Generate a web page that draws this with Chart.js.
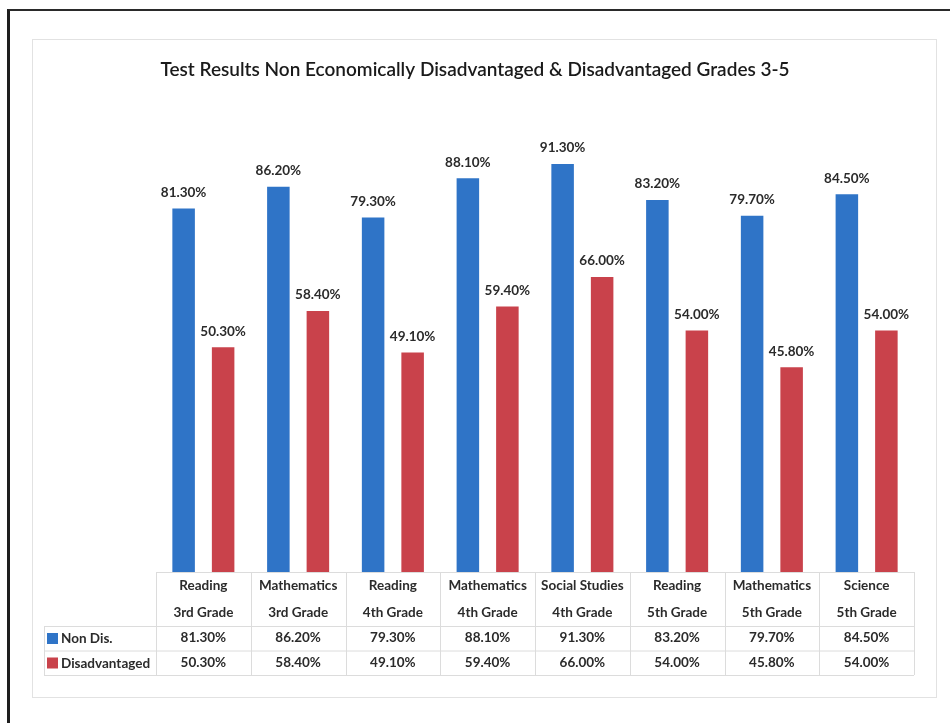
<!DOCTYPE html>
<html>
<head>
<meta charset="utf-8">
<script src="https://cdn.jsdelivr.net/npm/chart.js@4.4.1/dist/chart.umd.min.js"></script>
<style>
  html, body { margin: 0; padding: 0; background: #fff; }
  #wrap { position: relative; width: 950px; height: 723px; }
  #frame { position: absolute; left: 7px; top: 9px; width: 960px; height: 730px;
           border-left: 3px solid #1e1e1e; border-top: 2px solid #2a2a2a; box-sizing: border-box; }
  #panel { position: absolute; left: 32px; top: 39px; width: 905px; height: 659px;
           border: 1px solid #e2e2e2; box-sizing: border-box; }
  canvas { position: absolute; left: 0; top: 0; }
</style>
</head>
<body>
<div id="wrap">
  <div id="frame"></div>
  <div id="panel"></div>
  <canvas id="c" width="950" height="723"></canvas>
</div>
<script>
// Subjects and grade levels, one pair per column group
const subjects = ['Reading', 'Mathematics', 'Reading', 'Mathematics', 'Social Studies', 'Reading', 'Mathematics', 'Science'];
const grades = ['3rd Grade', '3rd Grade', '4th Grade', '4th Grade', '4th Grade', '5th Grade', '5th Grade', '5th Grade'];

// Percent passing for each group of students
const nonDisadvantaged = [81.3, 86.2, 79.3, 88.1, 91.3, 83.2, 79.7, 84.5];
const disadvantaged = [50.3, 58.4, 49.1, 59.4, 66.0, 54.0, 45.8, 54.0];

const seriesNames = ['Non Dis.', 'Disadvantaged'];
const seriesColors = ['#2f74c7', '#c9424b'];
const chartTitle = 'Test Results Non Economically Disadvantaged & Disadvantaged Grades 3-5';

const labelFont = 'bold 13.5px Lato, "Open Sans", sans-serif';
const fmt = v => v.toFixed(2) + '%';

// Title centred over the whole panel
const panelTitle = {
  id: 'panelTitle',
  afterDraw(chart) {
    const ctx = chart.ctx;
    ctx.save();
    ctx.font = '600 19px Lato, "Open Sans", sans-serif';
    ctx.fillStyle = '#1a1a1a';
    ctx.textAlign = 'center';
    ctx.textBaseline = 'middle';
    ctx.fillText(chartTitle, 475, 70);
    ctx.restore();
  }
};

// Percent labels above every bar
const barValueLabels = {
  id: 'barValueLabels',
  afterDatasetsDraw(chart) {
    const ctx = chart.ctx;
    ctx.save();
    ctx.font = labelFont;
    ctx.fillStyle = '#2b2b2b';
    ctx.textAlign = 'center';
    ctx.textBaseline = 'middle';
    chart.data.datasets.forEach((ds, di) => {
      chart.getDatasetMeta(di).data.forEach((bar, i) => {
        ctx.fillText(fmt(ds.data[i]), bar.x, bar.y - 16);
      });
    });
    ctx.restore();
  }
};

// Data table under the plot: category headings, legend keys and values
const dataTable = {
  id: 'dataTable',
  afterDraw(chart) {
    const ctx = chart.ctx;
    const xs = chart.scales.x;
    const area = chart.chartArea;
    const n = chart.data.labels.length;
    const step = (xs.right - xs.left) / n;
    const top = area.bottom;
    const headBottom = top + 54;
    const rowH = 24.5;
    const legendLeft = 44;
    const bottom = headBottom + rowH * 2;

    ctx.save();
    ctx.strokeStyle = '#dcdcdc';
    ctx.lineWidth = 1;
    ctx.beginPath();
    ctx.moveTo(xs.left, top + 0.5); ctx.lineTo(xs.right, top + 0.5);
    ctx.moveTo(legendLeft, headBottom + 0.5); ctx.lineTo(xs.right, headBottom + 0.5);
    ctx.moveTo(legendLeft, headBottom + rowH + 0.5); ctx.lineTo(xs.right, headBottom + rowH + 0.5);
    ctx.moveTo(legendLeft, bottom + 0.5); ctx.lineTo(xs.right, bottom + 0.5);
    for (let i = 0; i <= n; i++) {
      const x = Math.round(xs.left + i * step) + 0.5;
      ctx.moveTo(x, top); ctx.lineTo(x, bottom);
    }
    ctx.moveTo(legendLeft + 0.5, headBottom); ctx.lineTo(legendLeft + 0.5, bottom);
    ctx.stroke();

    ctx.font = labelFont;
    ctx.fillStyle = '#2b2b2b';
    ctx.textAlign = 'center';
    ctx.textBaseline = 'middle';
    chart.data.labels.forEach((lab, i) => {
      const cx = xs.getPixelForValue(i);
      ctx.fillText(lab[0], cx, top + 14);
      ctx.fillText(lab[1], cx, top + 41);
      chart.data.datasets.forEach((ds, di) => {
        ctx.fillText(fmt(ds.data[i]), cx, headBottom + rowH * di + 12);
      });
    });

    // legend keys
    ctx.textAlign = 'left';
    chart.data.datasets.forEach((ds, di) => {
      const cy = headBottom + rowH * di + 12;
      ctx.fillStyle = ds.backgroundColor;
      ctx.fillRect(legendLeft + 3, cy - 5, 11, 11);
      ctx.fillStyle = '#2b2b2b';
      ctx.fillText(seriesNames[di], legendLeft + 17, cy + 1);
    });
    ctx.restore();
  }
};

new Chart(document.getElementById('c'), {
  type: 'bar',
  data: {
    labels: subjects.map((s, i) => [s, grades[i]]),
    datasets: [
      { label: seriesNames[0], data: nonDisadvantaged, backgroundColor: seriesColors[0] },
      { label: seriesNames[1], data: disadvantaged, backgroundColor: seriesColors[1] }
    ]
  },
  options: {
    responsive: false,
    animation: false,
    devicePixelRatio: 1,
    categoryPercentage: 0.834,
    barPercentage: 0.57,
    layout: { padding: { left: 156, right: 36, top: 125, bottom: 151 } },
    scales: {
      x: { display: false },
      y: { display: false, min: 0, max: 100 }
    },
    plugins: {
      legend: { display: false },
      tooltip: { enabled: false },
      title: { display: false }
    }
  },
  plugins: [barValueLabels, dataTable, panelTitle]
});
</script>
</body>
</html>
